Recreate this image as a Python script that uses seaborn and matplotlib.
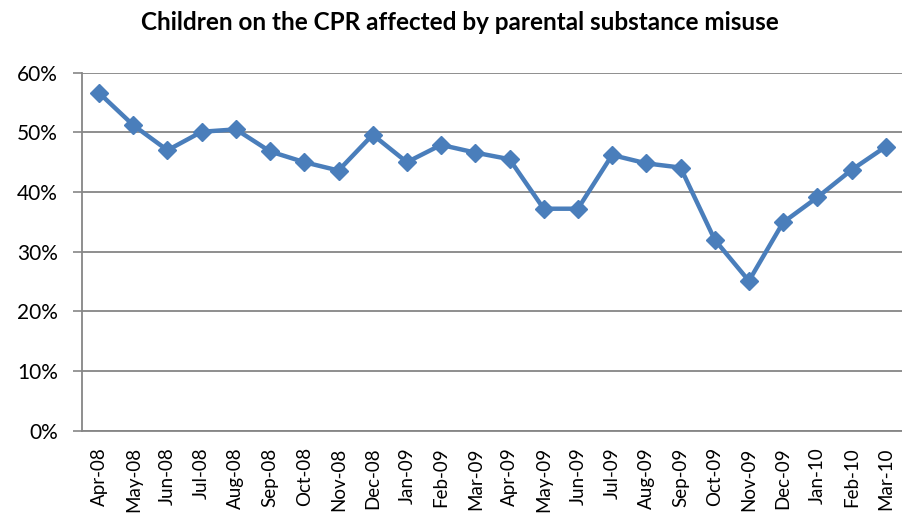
import pandas as pd
import matplotlib.pyplot as plt
import seaborn as sns
from matplotlib.ticker import FixedLocator, PercentFormatter

months = ["Apr-08", "May-08", "Jun-08", "Jul-08", "Aug-08", "Sep-08", "Oct-08",
          "Nov-08", "Dec-08", "Jan-09", "Feb-09", "Mar-09", "Apr-09", "May-09",
          "Jun-09", "Jul-09", "Aug-09", "Sep-09", "Oct-09", "Nov-09", "Dec-09",
          "Jan-10", "Feb-10", "Mar-10"]
share = [56.6, 51.2, 47.0, 50.1, 50.5, 46.8, 45.0, 43.6, 49.6, 45.0, 47.9, 46.6,
         45.5, 37.2, 37.2, 46.2, 44.8, 44.1, 32.0, 25.1, 34.9, 39.1, 43.7, 47.6]
y_ticks = [0, 10, 20, 30, 40, 50, 60]

df = pd.DataFrame({"month": months, "share": share})

sns.set_style("white")
plt.rcParams["font.family"] = ["Lato", "DejaVu Sans"]
plt.rcParams["text.color"] = "black"
plt.rcParams["xtick.labelcolor"] = "black"
plt.rcParams["ytick.labelcolor"] = "black"

fig = plt.figure(figsize=(9.03, 5.17), dpi=100)
ax = fig.add_axes([0.0908, 0.167, 0.909, 0.6924])

grid_col = "#868686"
line_col = "#4A7EBB"

sns.lineplot(data=df, x="month", y="share", sort=False, ax=ax, color=line_col,
             linewidth=3.2, marker="D", markersize=9, markeredgecolor=line_col,
             markeredgewidth=1, zorder=3)

ax.set_ylim(0, 60)
ax.set_xlim(-0.5, len(months) - 0.5)
ax.set_yticks(y_ticks)
ax.yaxis.set_major_formatter(PercentFormatter(decimals=0))
ax.yaxis.grid(True, color=grid_col, linewidth=1.3)
ax.set_axisbelow(True)

ax.set_xticks(range(len(months)))
ax.set_xticklabels(months, rotation=90, fontsize=13.5)
ax.tick_params(axis="x", length=0, pad=12, labelcolor="black")
ax.xaxis.set_minor_locator(FixedLocator([i - 0.5 for i in range(len(months) + 1)]))
ax.tick_params(axis="x", which="minor", length=5, width=1.2, color=grid_col,
               direction="out")
ax.tick_params(axis="y", labelsize=15, length=6.5, width=1.2, color=grid_col,
               direction="out", pad=11, left=True, labelcolor="black")

for side in ["top", "right"]:
    ax.spines[side].set_visible(False)
for side in ["left", "bottom"]:
    ax.spines[side].set_color(grid_col)
    ax.spines[side].set_linewidth(1.3)

ax.set_xlabel("")
ax.set_ylabel("")
fig.suptitle("Children on the CPR affected by parental substance misuse",
             x=0.509, y=0.957, va="center", fontsize=17.5, fontweight="bold",
             color="black")

fig.savefig("out.png", dpi=100)
